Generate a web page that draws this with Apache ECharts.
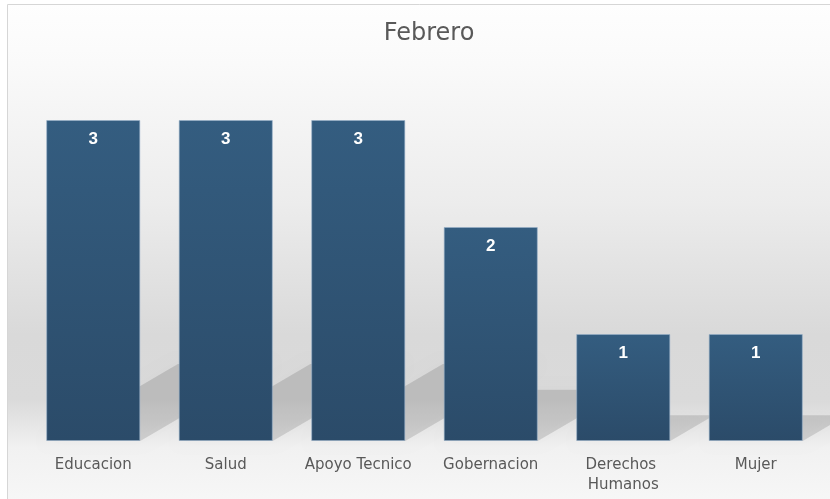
<!DOCTYPE html>
<html>
<head>
<meta charset="utf-8">
<script src="https://cdn.jsdelivr.net/npm/echarts@6/dist/echarts.min.js"></script>
<style>
  html, body { margin: 0; padding: 0; background: #ffffff; }
  #chart { width: 830px; height: 499px; }
</style>
</head>
<body>
<div id="chart"></div>
<script>
// datos del grafico
var categorias = ['Educacion', 'Salud', 'Apoyo Tecnico', 'Gobernacion', 'Derechos Humanos', 'Mujer'];
var valores = [3, 3, 3, 2, 1, 1];
var titulo = 'Febrero';

var chart = echarts.init(document.getElementById('chart'));
var fuente = '"DejaVu Sans", "Noto Sans", sans-serif';

// sombra en perspectiva detras de cada barra
function sombra(params, api) {
    var idx = api.value(0);
    var v = api.value(1);
    var base = api.coord([idx, 0]);
    var top = api.coord([idx, v]);
    var bw = api.size([1, 0])[0] * 0.71;
    var h = base[1] - top[1];
    var L = base[0] - bw / 2;
    var R = base[0] + bw / 2;
    var B = base[1];
    var dx = h * 0.41, dy = h * 0.24;
    return {
        type: 'polygon',
        shape: { points: [[L, B], [R, B], [R + dx, B - dy], [L + dx, B - dy]] },
        style: {
            fill: 'rgba(0,0,0,0.12)',
            shadowBlur: 12,
            shadowColor: 'rgba(0,0,0,0.12)'
        }
    };
}

var option = {
    animation: false,
    graphic: [{
        type: 'rect',
        z: -10,
        silent: true,
        shape: { x: 7.5, y: 4.5, width: 830, height: 500 },
        style: {
            stroke: '#d6d6d6',
            lineWidth: 1,
            fill: new echarts.graphic.LinearGradient(0, 0, 0, 1, [
                { offset: 0, color: '#fefefe' },
                { offset: 0.12, color: '#fafafa' },
                { offset: 0.4, color: '#ececec' },
                { offset: 0.66, color: '#d9d9d9' },
                { offset: 0.79, color: '#dadada' },
                { offset: 0.885, color: '#f1f1f1' },
                { offset: 1, color: '#f7f7f7' }
            ])
        }
    }],
    title: {
        text: titulo,
        left: 424,
        textAlign: 'center',
        top: 17,
        textStyle: { fontFamily: fuente, fontSize: 24, fontWeight: 'normal', color: '#595959' }
    },
    grid: { left: 27, right: 8, top: 120, bottom: 58 },
    xAxis: {
        type: 'category',
        data: categorias,
        axisLine: { show: false },
        axisTick: { show: false },
        axisLabel: {
            interval: 0,
            margin: 14,
            color: '#595959',
            fontFamily: fuente,
            fontSize: 15,
            lineHeight: 20,
            width: 126,
            overflow: 'break'
        }
    },
    yAxis: {
        type: 'value',
        min: 0,
        max: 3,
        show: false,
        splitLine: { show: false }
    },
    series: [{
        type: 'custom',
        z: 1,
        silent: true,
        renderItem: sombra,
        data: valores.map(function (v, i) { return [i, v]; })
    }, {
        type: 'bar',
        z: 3,
        data: valores,
        barCategoryGap: '29%',
        itemStyle: {
            color: new echarts.graphic.LinearGradient(0, 0, 0, 1, [
                { offset: 0, color: '#345d80' },
                { offset: 1, color: '#2b4b69' }
            ]),
            borderColor: 'rgba(150,175,200,0.6)',
            borderWidth: 1
        },
        label: {
            show: true,
            position: 'insideTop',
            distance: 11,
            color: '#ffffff',
            fontFamily: 'Arial, "Liberation Sans", sans-serif',
            fontWeight: 'bold',
            fontSize: 17
        }
    }]
};

chart.setOption(option);
</script>
</body>
</html>
